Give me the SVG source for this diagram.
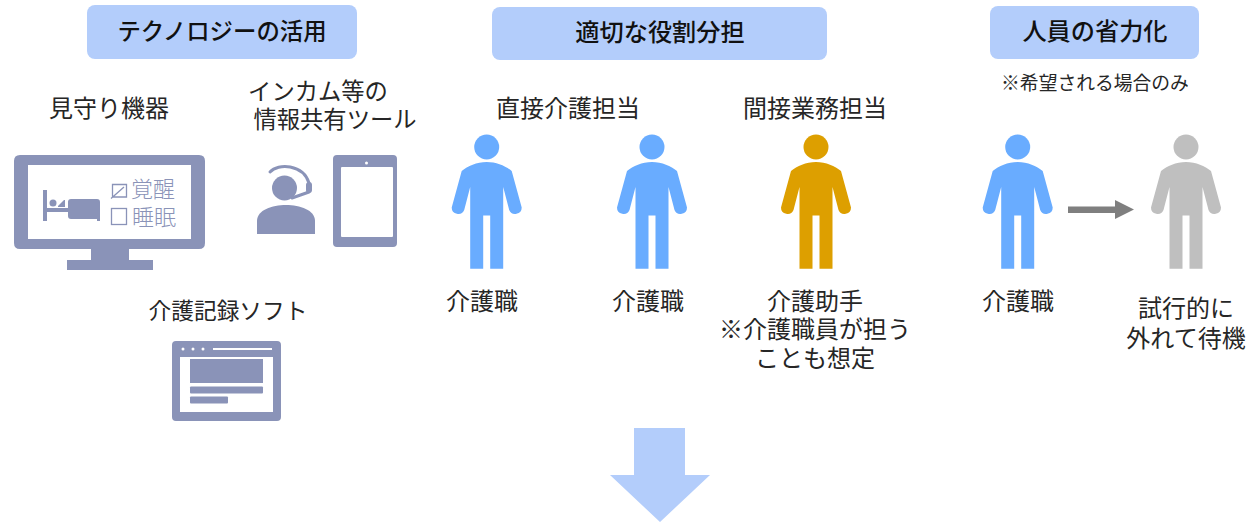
<svg xmlns="http://www.w3.org/2000/svg" xmlns:xlink="http://www.w3.org/1999/xlink" width="1247" height="522" viewBox="0 0 1247 522">
<style>
text{font-family:"Noto Sans CJK JP","Noto Sans CJK SC",sans-serif;fill:#262626;font-size:24px;text-anchor:middle}
.h{font-size:24.200px;font-weight:500;fill:#111}
.band{fill:#b3cdfb}
.ic{fill:#8a93b8}
.th{font-size:22px;fill:#8a93b8;text-anchor:start;font-weight:300}
.s{font-size:18.800px}
</style>
<defs>
<symbol id="person" overflow="visible">
<circle cx="0" cy="0" r="12.500"/>
<path d="M0 15C-10 15-19 19-25 24L-35 60.500A6.500 6.500 0 0 0-22.500 63L-16.500 40V121.700H-3.500V68.500H3.500V121.700H16.500V40L22.500 63A6.500 6.500 0 0 0 35 60.500L25 24C19 19 10 15 0 15Z"/>
</symbol>
</defs>
<g id="heading-tech"><rect class="band" x="87" y="5" width="270" height="54" rx="8"/><text class="h" x="222" y="40" style="font-size:23.400px">テクノロジーの活用</text></g>
<g id="heading-role"><rect class="band" x="492" y="7" width="335" height="53" rx="8"/><text class="h" x="660" y="41">適切な役割分担</text></g>
<g id="heading-saving"><rect class="band" x="990" y="6" width="209" height="53" rx="8"/><text class="h" x="1095" y="40">人員の省力化</text></g>
<text class="s" x="1095" y="90">※希望される場合のみ</text>
<g id="monitor">
<text x="109" y="117">見守り機器</text>
<path class="ic" fill-rule="evenodd" d="M20 155H199Q205 155 205 161V243Q205 249 199 249H129V260H153V270H67V260H91V249H20Q14 249 14 243V161Q14 155 20 155ZM28 165V239H191V165Z"/>
<path class="ic" d="M43 190H47V208H68V212H47V221H43ZM71 199H97Q100 199 100 202V221H97V219H71Q68 219 68 216V202Q68 199 71 199Z"/>
<circle class="ic" cx="53" cy="203" r="3.500"/>
<path class="ic" d="M58 206L64 200H65V207H58Z"/>
<path d="M112.500 184.500H126.500V197H112.500ZM111 198.500L124 187" fill="none" stroke="#8a93b8" stroke-width="1.300"/>
<rect x="111.500" y="208.500" width="15" height="16" fill="none" stroke="#8a93b8" stroke-width="1.300"/>
<text class="th" x="131" y="197">覚醒</text>
<text class="th" x="132" y="225">睡眠</text>
</g>
<g id="intercom">
<text style="font-size:23.300px"><tspan x="318" y="100">インカム等の</tspan><tspan x="335" y="128">情報共有ツール</tspan></text>
<circle class="ic" cx="284.500" cy="188" r="12.500"/>
<path d="M270 172C278 163 303 164 309 183M309 192L292 198" fill="none" stroke="#8a93b8" stroke-width="3" stroke-linecap="round"/>
<rect class="ic" x="306" y="182" width="6" height="11" rx="3"/>
<path class="ic" d="M257 234V221C257 210 272 205 286 205C300 205 315 210 315 221V234Z"/>
<path class="ic" fill-rule="evenodd" d="M337 155H393Q397 155 397 159V243Q397 247 393 247H337Q333 247 333 243V159Q333 155 337 155ZM342 167Q341 167 341 168V236Q341 237 342 237H392Q393 237 393 236V168Q393 167 392 167Z"/>
<circle cx="366.500" cy="163" r="1.500" fill="#fff"/>
</g>
<g id="record-software">
<text x="228" y="319" style="font-size:22.700px">介護記録ソフト</text>
<path class="ic" fill-rule="evenodd" d="M176 341H277Q281 341 281 345V417Q281 421 277 421H176Q172 421 172 417V345Q172 341 176 341ZM180 357V412H273V357Z"/>
<circle cx="183" cy="349" r="1.500" fill="#fff"/><circle cx="193" cy="349" r="1.500" fill="#fff"/><circle cx="203" cy="349" r="1.500" fill="#fff"/>
<rect x="213" y="348" width="59" height="2" fill="#fff"/>
<rect class="ic" x="190" y="359" width="73" height="24"/>
<rect class="ic" x="190" y="386.500" width="73" height="7" rx="1"/>
<rect class="ic" x="190" y="396.500" width="38" height="7" rx="1"/>
</g>
<text x="568" y="117">直接介護担当</text>
<text x="815" y="117">間接業務担当</text>
<g id="person-1" fill="#69acff"><use xlink:href="#person" href="#person" x="486.700" y="147"/><text x="482" y="310">介護職</text></g>
<g id="person-2" fill="#69acff"><use xlink:href="#person" href="#person" x="652" y="147"/><text x="648" y="310">介護職</text></g>
<g id="person-3" fill="#dd9f00"><use xlink:href="#person" href="#person" x="816" y="147"/><text><tspan x="815" y="310">介護助手</tspan><tspan x="815" y="338">※介護職員が担う</tspan><tspan x="815" y="367">ことも想定</tspan></text></g>
<g id="person-4" fill="#69acff"><use xlink:href="#person" href="#person" x="1017.700" y="147"/><text x="1018" y="310">介護職</text></g>
<g id="person-5" fill="#bfbfbf"><use xlink:href="#person" href="#person" x="1186" y="147"/><text><tspan x="1186" y="317">試行的に</tspan><tspan x="1186" y="347">外れて待機</tspan></text></g>
<g id="connectors">
<path d="M1068 206.500H1115V200L1134 209.500L1115 219V213H1068Z" fill="#7f7f7f"/>
<path d="M634 428H685V475H710L660 522L610 475H634Z" fill="#b3cdfb"/>
</g>
</svg>
